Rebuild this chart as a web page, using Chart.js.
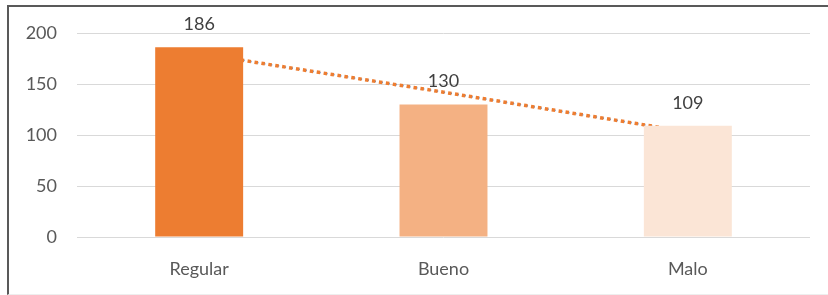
<!DOCTYPE html>
<html>
<head>
<meta charset="utf-8">
<script src="https://cdn.jsdelivr.net/npm/chart.js@4.4.0/dist/chart.umd.min.js"></script>
<style>
  body { margin: 0; background: #fff; }
  #frame {
    position: absolute; left: 7px; top: 5px; width: 821px; height: 287px;
    border-left: 2px solid #595959; border-top: 2px solid #595959;
    border-bottom: 1px solid #eeeeee;
  }
  #wrap { position: absolute; left: 0; top: 0; width: 828px; height: 295px; }
</style>
</head>
<body>
<div id="frame"></div>
<div id="wrap"><canvas id="chart"></canvas></div>
<script>
const categories = ["Regular", "Bueno", "Malo"];
const values = [186, 130, 109];
const trendValues = [180, 142, 103];
const barColors = ["#ED7D31", "#F4B183", "#FBE5D6"];
const yTicks = [0, 50, 100, 150, 200];

const valueLabels = {
  id: "valueLabels",
  afterDatasetsDraw(chart) {
    const ctx = chart.ctx;
    const meta = chart.getDatasetMeta(0);
    ctx.save();
    ctx.font = "18px Lato";
    ctx.fillStyle = "#404040";
    ctx.textAlign = "center";
    ctx.textBaseline = "middle";
    meta.data.forEach((bar, i) => {
      ctx.fillText(values[i], bar.x, bar.y - 23);
    });
    ctx.restore();
  }
};

new Chart(document.getElementById("chart"), {
  data: {
    labels: categories,
    datasets: [
      {
        type: "bar",
        data: values,
        backgroundColor: barColors,
        categoryPercentage: 1,
        barPercentage: 0.36,
        order: 1
      },
      {
        type: "line",
        data: trendValues,
        borderColor: "#ED7D31",
        borderWidth: 3.5,
        borderDash: [3.5, 3.5],
        pointRadius: 0,
        fill: false,
        order: 2
      },
      {
        type: "line",
        data: trendValues,
        borderColor: "#5B8BD0",
        borderWidth: 1.5,
        borderDash: [2, 5],
        borderDashOffset: 5,
        pointRadius: 0,
        fill: false,
        order: 3
      }
    ]
  },
  options: {
    responsive: true,
    maintainAspectRatio: false,
    animation: false,
    layout: { padding: { top: 33, right: 18, left: 0, bottom: 0 } },
    plugins: { legend: { display: false }, tooltip: { enabled: false } },
    scales: {
      x: {
        grid: { display: false },
        border: { display: false },
        ticks: { color: "#595959", font: { family: "Lato", size: 18 }, padding: 13 },
        afterFit(scale) { scale.height = 58; }
      },
      y: {
        min: 0,
        max: 200,
        afterBuildTicks(scale) { scale.ticks = yTicks.map(v => ({ value: v })); },
        grid: { color: "#d9d9d9", lineWidth: 1, drawTicks: false },
        border: { display: false },
        ticks: { color: "#595959", font: { family: "Lato", size: 18 }, padding: 20 },
        afterFit(scale) { scale.width = 77; }
      }
    }
  },
  plugins: [valueLabels]
});
</script>
</body>
</html>
